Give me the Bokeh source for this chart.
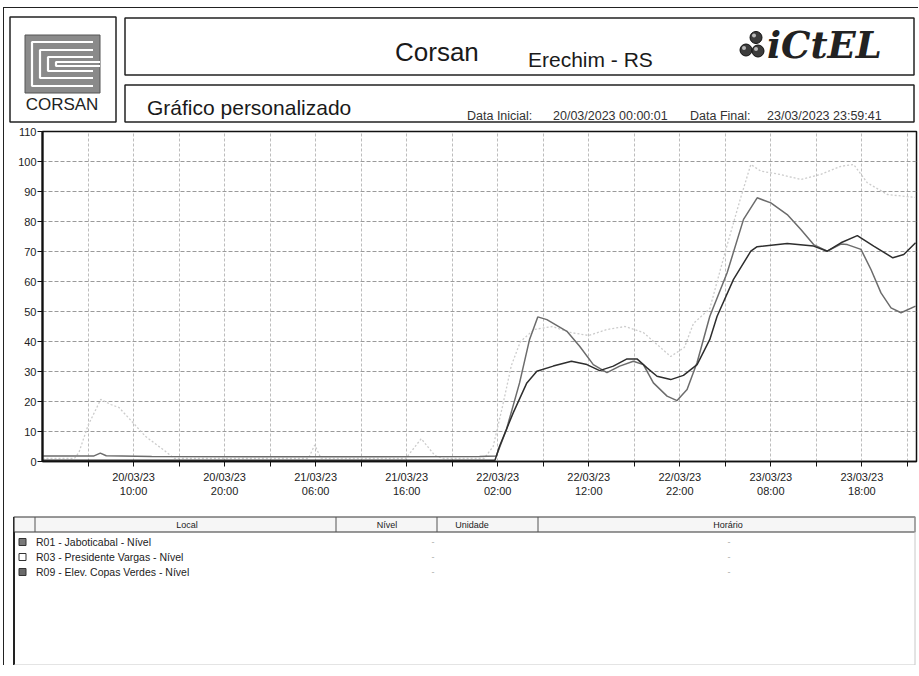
import pandas as pd
from bokeh.plotting import figure
from bokeh.layouts import column
from bokeh.models import Range1d, FixedTicker, DatetimeTickFormatter
from bokeh.core.properties import value
from bokeh.embed import file_html
from bokeh.resources import INLINE

# ---------------- data ----------------
START = "2023-03-20 00:00:00"
END = "2023-03-24 00:00:00"

# R01 - Jaboticabal (hours since start, level)
r01_hours = [0, 12, 24, 36, 48, 49.7, 50.2, 51.7, 53.2, 54.3, 56.1, 58.1, 59.8, 61.2, 62.7,
             64.2, 65.3, 66.4, 67.5, 69.0, 70.4, 71.9, 73.3, 74.1, 75.9, 77.8, 78.5, 81.8,
             84.7, 86.2, 87.7, 89.5, 91.3, 93.4, 94.6, 95.9]
r01_level = [0.4, 0.4, 0.4, 0.4, 0.4, 0.4, 5.1, 16.2, 26.2, 30.1, 31.8, 33.4, 32.3, 30.3, 31.8,
             34.2, 34.2, 31.2, 28.4, 27.3, 28.7, 32.3, 40.7, 48.4, 60.7, 70.1, 71.6, 72.7,
             71.8, 70.1, 72.9, 75.3, 71.8, 67.9, 69.0, 72.9]

# R03 - Presidente Vargas
r03_hours = [0, 3.5, 4.0, 5.0, 6.4, 7.5, 8.4, 9.8, 11.3, 13.5, 14.5, 29.2, 29.9, 30.6, 39.9,
             41.6, 43.1, 44, 48.5, 49.5, 50.5, 51.5, 52.5, 54, 56, 58, 60, 62, 64, 66, 67.5,
             69, 70.5, 71.5, 73.3, 75, 76.6, 77.8, 78.9, 81, 83.3, 85.5, 87.7, 89.1, 90.6,
             92.8, 95.9]
r03_level = [1.0, 1.0, 3.0, 12.0, 20.7, 19.0, 18.0, 13.4, 8.4, 3.4, 1.0, 1.0, 5.5, 1.0, 1.0,
             7.6, 2.0, 1.0, 1.0, 5.0, 18.0, 32.0, 40.0, 44.0, 45.0, 43.0, 42.0, 44.0, 45.0,
             43.0, 39.0, 35.0, 38.0, 46.0, 51.0, 70.0, 87.0, 99.0, 96.8, 95.7, 94.0, 95.7,
             98.4, 99.0, 92.9, 89.0, 88.0]

# R09 - Elev. Copas Verdes
r09_hours = [0, 5.6, 6.35, 7.0, 12, 24, 36, 48, 49.85, 50.96, 52.4, 53.5, 54.4, 55.4, 57.6,
             59.0, 60.5, 62.0, 63.4, 64.9, 66.0, 67.1, 68.6, 69.7, 70.8, 71.9, 73.3, 75.2,
             77.0, 78.5, 80.0, 81.8, 83.3, 84.7, 86.2, 87.7, 88.4, 89.9, 91.0, 92.1, 93.2,
             94.3, 95.9]
r09_level = [1.8, 1.8, 2.8, 1.9, 1.7, 1.6, 1.6, 1.7, 1.8, 10.7, 26.2, 40.7, 48.2, 47.3, 43.4,
             38.4, 32.3, 29.6, 31.8, 33.4, 32.3, 26.2, 21.8, 20.3, 24.0, 33.0, 48.4, 62.9,
             80.7, 87.9, 86.2, 82.3, 77.3, 72.3, 70.1, 72.5, 72.3, 70.7, 64.0, 56.2, 51.2,
             49.6, 51.8]

y_ticks = [0, 10, 20, 30, 40, 50, 60, 70, 80, 90, 100, 110]
x_tick_times = ["2023-03-20 10:00", "2023-03-20 20:00", "2023-03-21 06:00", "2023-03-21 16:00",
                "2023-03-22 02:00", "2023-03-22 12:00", "2023-03-22 22:00", "2023-03-23 08:00",
                "2023-03-23 18:00"]
x_tick_labels = ["20/03/23\n10:00", "20/03/23\n20:00", "21/03/23\n06:00", "21/03/23\n16:00",
                 "22/03/23\n02:00", "22/03/23\n12:00", "22/03/23\n22:00", "23/03/23\n08:00",
                 "23/03/23\n18:00"]
x_minor_times = ["2023-03-20 05:00", "2023-03-20 15:00", "2023-03-21 01:00", "2023-03-21 11:00",
                 "2023-03-21 21:00", "2023-03-22 07:00", "2023-03-22 17:00", "2023-03-23 03:00",
                 "2023-03-23 13:00", "2023-03-23 23:00"]

series_names = ["R01 - Jaboticabal - Nível", "R03 - Presidente Vargas - Nível",
                "R09 - Elev. Copas Verdes - Nível"]
table_columns = ["Local", "Nível", "Unidade", "Horário"]

FONT = value("Liberation Sans")
X0 = 4.5      # page x where the figures start
Y0 = 8.5      # page y where the figures start
W = 914
H_HDR, H_CHART, H_TAB = 116, 382, 159


def to_dt(hours):
    return list(pd.Timestamp(START) + pd.to_timedelta(hours, unit="h"))


def ms(t):
    return int(pd.Timestamp(t).value // 10**6)


def canvas(h, y0):
    f = figure(width=W, height=h, x_range=Range1d(X0, X0 + W), y_range=Range1d(y0 + h, y0),
               output_backend="svg", toolbar_location=None, min_border=0,
               x_axis_location=None, y_axis_location=None, title=None, frame_align=False)
    f.grid.visible = False
    f.outline_line_color = None
    f.background_fill_color = "white"
    f.border_fill_color = "white"
    return f


def txt(f, x, y, s, size, align="left", color="#1a1a1a", font=FONT, style="normal"):
    f.text(x=[x], y=[y], text=[s], text_font=font, text_font_size=value(size),
           text_align=align, text_baseline="middle", text_color=color, text_font_style=style)


# ---------------- header ----------------
hdr = canvas(H_HDR, Y0)
box = dict(fill_color=None, line_color="#222", line_width=1.5)
hdr.quad(left=[10], right=[116], top=[17], bottom=[122], **box)
hdr.quad(left=[125], right=[914], top=[18], bottom=[75], **box)
hdr.quad(left=[125], right=[914], top=[85], bottom=[122], **box)

# CORSAN logo (approximation)
hdr.quad(left=[25], right=[100], top=[35], bottom=[93], fill_color="#8a8a8a", line_color="#555")
hdr.multi_line(xs=[[93, 32, 32, 93], [93, 40, 40, 93], [93, 48, 48, 93], [100, 56, 56, 100]],
               ys=[[42, 42, 86, 86], [50, 50, 78, 78], [57, 57, 71, 71], [62, 62, 66, 66]],
               line_color="white", line_width=2.2)
txt(hdr, 62, 104, "CORSAN", "17px", align="center", color="#222")

txt(hdr, 395, 52, "Corsan", "26px")
txt(hdr, 528, 59, "Erechim - RS", "21px")
# ICTEL logo
hdr.scatter(x=[756, 746, 758], y=[37.5, 50, 51], size=12, fill_color="#3c3c3c", line_color="#111")
hdr.scatter(x=[754, 744, 756], y=[35.5, 48, 49], size=4, fill_color="#bbbbbb", line_color=None)
txt(hdr, 767, 45, "iCtEL", "37px", font=value("DejaVu Serif"), style="bold italic", color="#222")

txt(hdr, 147, 107, "Gráfico personalizado", "21px")
txt(hdr, 467, 116, "Data Inicial:", "12.5px", color="#333")
txt(hdr, 553, 116, "20/03/2023 00:00:01", "12.5px", color="#333")
txt(hdr, 690, 116, "Data Final:", "12.5px", color="#333")
txt(hdr, 767, 116, "23/03/2023 23:59:41", "12.5px", color="#333")

# ---------------- chart ----------------
p = figure(width=W, height=H_CHART, x_axis_type="datetime",
           x_range=Range1d(pd.Timestamp(START).to_pydatetime(), pd.Timestamp(END).to_pydatetime()),
           y_range=Range1d(0, 110), output_backend="svg", toolbar_location=None, title=None,
           min_border_left=38, min_border_right=2, min_border_top=7, min_border_bottom=45,
           frame_align=False)
p.background_fill_color = "white"
p.border_fill_color = "white"
p.outline_line_color = "#111"
p.outline_line_width = 1.5

major_ms = [ms(t) for t in x_tick_times]
minor_ms = [ms(t) for t in x_minor_times]
p.xaxis.ticker = FixedTicker(ticks=major_ms, minor_ticks=minor_ms)
fmt = "%d/%m/%y\n%H:%M"
p.xaxis.formatter = DatetimeTickFormatter(hours=fmt, days=fmt, hourmin=fmt, minutes=fmt,
                                          months=fmt, years=fmt)
p.xaxis.major_label_overrides = {m: lab for m, lab in zip(major_ms, x_tick_labels)}
p.yaxis.ticker = FixedTicker(ticks=y_ticks)

for ax in (p.xaxis, p.yaxis):
    ax.axis_line_color = "#111"
    ax.major_tick_line_color = "#111"
    ax.minor_tick_line_color = "#111"
    ax.major_tick_in = 0
    ax.minor_tick_in = 0
    ax.major_label_text_font = "Liberation Sans"
    ax.major_label_text_font_size = "11px"
    ax.major_label_text_color = "#222"
p.xaxis.axis_line_width = 1.5
p.xaxis.major_tick_out = 5
p.xaxis.minor_tick_out = 5
p.xaxis.major_label_standoff = 4
p.yaxis.axis_line_width = 2.2
p.yaxis.major_tick_out = 5
p.yaxis.minor_tick_out = 0
p.yaxis.major_label_standoff = 1

p.xgrid.grid_line_color = "#bdbdbd"
p.xgrid.grid_line_dash = "3 2"
p.xgrid.minor_grid_line_color = "#bdbdbd"
p.xgrid.minor_grid_line_dash = "3 2"
p.ygrid.grid_line_color = "#9a9a9a"
p.ygrid.grid_line_dash = "4 2"

p.line(to_dt(r03_hours), r03_level, line_color="#cccccc", line_width=1.3, line_dash="2 2")
p.line(to_dt(r09_hours), r09_level, line_color="#6c6c6c", line_width=1.5)
p.line(to_dt(r01_hours), r01_level, line_color="#2e2e2e", line_width=1.5)

# ---------------- table ----------------
ty0 = Y0 + H_HDR + H_CHART
tb = canvas(H_TAB, ty0)
tb.segment(x0=[14], y0=[517], x1=[14], y1=[666], line_color="#222", line_width=2)
tb.quad(left=[14], right=[915], top=[517], bottom=[532], fill_color="#f6f6f6",
        line_color="#333", line_width=1.2)
tb.segment(x0=[35, 336, 437, 538], y0=[517] * 4, x1=[35, 336, 437, 538], y1=[532] * 4,
           line_color="#555", line_width=1)
tb.segment(x0=[14, 915], y0=[665, 517], x1=[915, 915], y1=[665, 665], line_color="#c8c8c8",
           line_width=1)
for xh, lab in zip([187, 387, 472, 728], table_columns):
    txt(tb, xh, 524.5, lab, "9px", align="center", color="#222")

row_y = [542, 557, 572]
swatch_fill = ["#7a7a7a", "#ffffff", "#6a6a6a"]
for yy, name, fc in zip(row_y, series_names, swatch_fill):
    tb.quad(left=[19], right=[26], top=[yy - 3.5], bottom=[yy + 3.5], fill_color=fc,
            line_color="#333", line_width=1)
    txt(tb, 36, yy, name, "10.5px", color="#222")
    txt(tb, 433, yy, "-", "9px", align="center", color="#aaa")
    txt(tb, 729, yy, "-", "9px", align="center", color="#aaa")

layout = column(hdr, p, tb, spacing=0,
                styles={"margin-left": "3px", "margin-top": "7px",
                        "border-left": "1.5px solid #222", "border-top": "1.5px solid #222"})

open("out.html", "w").write(file_html(layout, INLINE))
